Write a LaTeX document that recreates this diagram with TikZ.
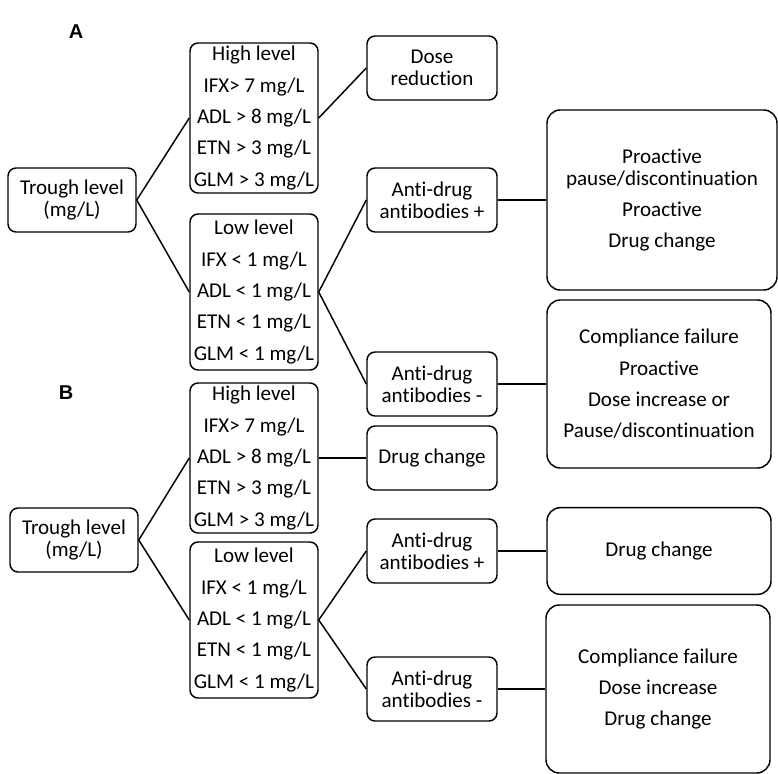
\documentclass[tikz,border=0pt]{standalone}
\usepackage{fontspec}
\setmainfont{Carlito}[Ligatures=CommonOff]
\newfontfamily\labelfont{Liberation Sans}
\begin{document}
\begin{tikzpicture}[x=0.75pt,y=-0.75pt,
  box/.style={draw, line width=1.1pt, rounded corners=6pt, align=center, inner sep=1pt,
    font=\fontsize{15.8}{16.5}\selectfont, minimum width=97.5pt, minimum height=48pt},
  levelbox/.style={box, minimum width=96pt},
  resbox/.style={box, rounded corners=10pt, minimum width=168pt},
  panel/.style={font=\labelfont\bfseries\fontsize{15}{17}\selectfont},
  link/.style={line width=1.1pt}]
\useasboundingbox (0,0) rectangle (778,774);
% panel A
\node[panel] (la) at (76,32) {A};
\node[levelbox] (ta) at (72,200) {Trough level\\(mg/L)};
\node[levelbox, minimum height=112.5pt] (ha) at (254,118) {High level\\[7pt]IFX> 7 mg/L\\[7pt]ADL > 8 mg/L\\[7pt]ETN > 3 mg/L\\[7pt]GLM > 3 mg/L};
\node[levelbox, minimum height=117pt] (lowa) at (254,292) {Low level\\[7pt]IFX < 1 mg/L\\[7pt]ADL < 1 mg/L\\[7pt]ETN < 1 mg/L\\[7pt]GLM < 1 mg/L};
\node[box] (dra) at (432,68) {Dose\\reduction};
\node[box] (posa) at (432,200) {Anti-drug\\antibodies +};
\node[box] (nega) at (432,384) {Anti-drug\\antibodies -};
\node[resbox, minimum width=172.5pt, minimum height=135pt] (proa) at (662,200) {Proactive\\pause/discontinuation\\[7pt]Proactive\\[7pt]Drug change};
\node[resbox, minimum height=126pt] (coma) at (659,384) {Compliance failure\\[7pt]Proactive\\[7pt]Dose increase or\\[7pt]Pause/discontinuation};
\draw[link] (ta.east) -- (ha.west);
\draw[link] (ta.east) -- (lowa.west);
\draw[link] (ha.east) -- (dra.west);
\draw[link] (lowa.east) -- (posa.west);
\draw[link] (lowa.east) -- (nega.west);
\draw[link] (posa) -- (proa);
\draw[link] (nega) -- (coma);
% panel B
\node[panel] (lb) at (66,393) {B};
\node[levelbox] (tb) at (74,540) {Trough level\\(mg/L)};
\node[levelbox, minimum height=112.5pt] (hb) at (254,458) {High level\\[7pt]IFX> 7 mg/L\\[7pt]ADL > 8 mg/L\\[7pt]ETN > 3 mg/L\\[7pt]GLM > 3 mg/L};
\node[levelbox, minimum height=117pt] (lowb) at (254,620) {Low level\\[7pt]IFX < 1 mg/L\\[7pt]ADL < 1 mg/L\\[7pt]ETN < 1 mg/L\\[7pt]GLM < 1 mg/L};
\node[box] (dcb) at (432,458) {Drug change};
\node[box] (posb) at (432,551) {Anti-drug\\antibodies +};
\node[box] (negb) at (432,689) {Anti-drug\\antibodies -};
\node[resbox, minimum height=65pt] (drb) at (659,551) {Drug change};
\node[resbox, minimum height=126pt] (comb) at (658,689) {Compliance failure\\[7pt]Dose increase\\[7pt]Drug change};
\draw[link] (tb.east) -- (hb.west);
\draw[link] (tb.east) -- (lowb.west);
\draw[link] (hb) -- (dcb);
\draw[link] (lowb.east) -- (posb.west);
\draw[link] (lowb.east) -- (negb.west);
\draw[link] (posb) -- (drb);
\draw[link] (negb) -- (comb);
\end{tikzpicture}
\end{document}
